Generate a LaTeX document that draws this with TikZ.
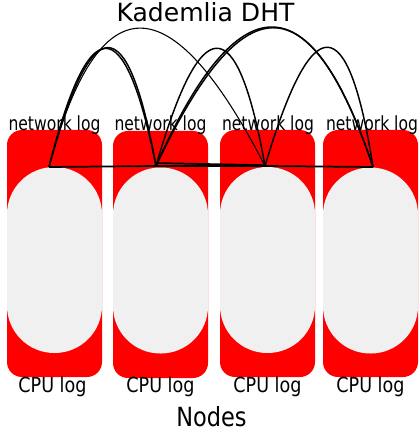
\documentclass[tikz,border=0pt]{standalone}
\usepackage{fontspec}
\setmainfont{DejaVu Sans}
\newfontfamily\condfont[FakeStretch=0.85]{DejaVu Sans}
\newfontfamily\netfont[FakeStretch=0.80]{DejaVu Sans}
\begin{document}
\begin{tikzpicture}[x=0.75pt,y=-0.75pt,
  redbox/.style={fill=red,draw=none,rounded corners=11.25pt,minimum width=71.25pt,minimum height=185.25pt,inner sep=0pt,outer sep=0pt},
  greybox/.style={fill={rgb,255:red,240;green,240;blue,240},draw=none,rounded corners=35.5pt,minimum width=71.25pt,minimum height=139.5pt,inner sep=0pt,outer sep=0pt},
  netlbl/.style={font=\netfont\fontsize{14.6pt}{16pt}\selectfont,anchor=base,inner sep=0pt},
  cpulbl/.style={font=\condfont\fontsize{15.5pt}{17pt}\selectfont,anchor=base,inner sep=0pt},
  edge/.style={line width=1.1pt,line join=round},
  thinedge/.style={line width=0.8pt},
  flat/.style={line width=1.3pt}]
\path[use as bounding box] (0,0) rectangle (419,431);
% boxes
\node[redbox] (b1) at (54.5,253.5) {};
\node[redbox] (b2) at (160.5,254.5) {};
\node[redbox] (b3) at (267.5,253.5) {};
\node[redbox] (b4) at (370.5,253.5) {};
\node[greybox] (g1) at (54.5,260) {};
\node[greybox] (g2) at (160.5,260.5) {};
\node[greybox] (g3) at (267.5,260) {};
\node[greybox] (g4) at (370.5,260.5) {};
% labels
\node[netlbl] (n1) at (54.5,131) {network log};
\node[netlbl] (n2) at (160.5,131) {network log};
\node[netlbl] (n3) at (268,131) {network log};
\node[netlbl] (n4) at (372,131) {network log};
\node[cpulbl] (c1) at (52.5,392) {CPU log};
\node[cpulbl] (c2) at (160.5,392) {CPU log};
\node[cpulbl] (c3) at (267.5,392) {CPU log};
\node[cpulbl] (c4) at (370.5,392) {CPU log};
\node[anchor=base,inner sep=0pt,font=\fontsize{18.8pt}{20pt}\selectfont] (title) at (205.5,22) {Kademlia DHT};
\node[anchor=base,inner sep=0pt,font=\condfont\fontsize{19.8pt}{22pt}\selectfont] (nodes) at (211.5,426) {Nodes};
% graph points
\coordinate (p1) at (49,167);
\coordinate (p2) at (156,166);
\coordinate (p3) at (265,166);
\coordinate (p4) at (373,167);
% straight edges
\draw[flat] (p1) -- (p2);
\draw[flat] (p2) -- (p3);
\draw[flat] ([yshift=2.2pt]p2) -- ([yshift=0.6pt]p3);
\draw[flat] (p3) -- (p4);
% arcs
\draw[edge] (p1) .. controls (92,8) and (127.6,8) .. (p2);
\draw[edge] (p1) .. controls (88,12) and (124,6) .. (p2);
\draw[thinedge] (p1) .. controls (98.4,-18) and (170.4,-18) .. (p3);
\draw[edge] (p2) .. controls (201,9) and (237,9) .. (p3);
\draw[edge] (p2) .. controls (238,-19.5) and (311,-19.5) .. (p4);
\draw[edge] (p2) .. controls (242,-16) and (309,-21) .. (p4);
\draw[edge] (p3) .. controls (312,7.5) and (348,7.5) .. (p4);
\end{tikzpicture}
\end{document}
